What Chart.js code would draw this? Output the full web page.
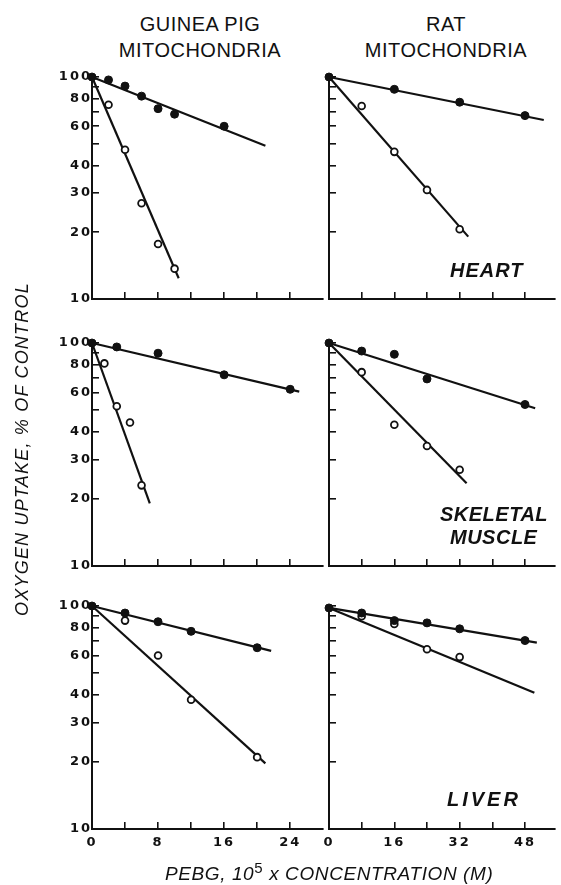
<!DOCTYPE html>
<html>
<head>
<meta charset="utf-8">
<script src="https://cdn.jsdelivr.net/npm/chart.js@4.4.1/dist/chart.umd.min.js"></script>
<style>
  body { margin: 0; width: 561px; height: 885px; background: #fff; position: relative; overflow: hidden;
         font-family: "Liberation Sans", Arial, sans-serif; color: #111; }
  canvas { position: absolute; }
  .title { position: absolute; width: 300px; text-align: center; font-size: 20px; line-height: 20px;
           letter-spacing: 0.5px; white-space: nowrap; }
  .tissue { position: absolute; font-size: 20px; line-height: 20px; font-weight: bold; font-style: italic;
            white-space: nowrap; }
  .ytitle { position: absolute; left: -148px; top: 439px; width: 340px; height: 20px; line-height: 20px;
            text-align: center; font-size: 18px; font-style: italic; letter-spacing: 1.2px;
            transform: rotate(-90deg); white-space: nowrap; }
  .xtitle { position: absolute; left: 165px; top: 864px; font-size: 19px; line-height: 19px;
            font-style: italic; letter-spacing: 0.6px; white-space: nowrap; }
  .xtitle sup { font-size: 15px; line-height: 0; font-style: normal; }
</style>
</head>
<body>
<div class="title" style="left:50px; top:14px;">GUINEA PIG</div>
<div class="title" style="left:50px; top:40px;">MITOCHONDRIA</div>
<div class="title" style="left:296px; top:14px;">RAT</div>
<div class="title" style="left:296px; top:40px;">MITOCHONDRIA</div>

<canvas id="gpHeart" width="309" height="252" style="left:20px; top:57px;"></canvas>
<canvas id="ratHeart" width="261" height="252" style="left:300px; top:57px;"></canvas>
<canvas id="gpMuscle" width="309" height="253" style="left:20px; top:323px;"></canvas>
<canvas id="ratMuscle" width="261" height="253" style="left:300px; top:323px;"></canvas>
<canvas id="gpLiver" width="309" height="273" style="left:20px; top:586px;"></canvas>
<canvas id="ratLiver" width="261" height="273" style="left:300px; top:586px;"></canvas>

<div class="tissue" style="left:450px; top:260px; letter-spacing:1px;">HEART</div>
<div class="tissue" style="left:440px; top:504px; letter-spacing:0.5px;">SKELETAL</div>
<div class="tissue" style="left:450px; top:527px; letter-spacing:0.5px;">MUSCLE</div>
<div class="tissue" style="left:447px; top:789px; letter-spacing:3px;">LIVER</div>

<div class="ytitle">OXYGEN UPTAKE, % OF CONTROL</div>
<div class="xtitle">PEBG, 10<sup>5</sup> x CONCENTRATION (M)</div>

<script>
const ink = '#111';

// axis ticks (marks every step, labels on some of them)
const yTickMarks = [10, 20, 30, 40, 50, 60, 70, 80, 90, 100];
const yTickLabels = [10, 20, 30, 40, 60, 80, 100];
const gpXTickMarks = [0, 4, 8, 12, 16, 20, 24];
const gpXTickLabels = [0, 8, 16, 24];
const ratXTickMarks = [0, 8, 16, 24, 32, 40, 48];
const ratXTickLabels = [0, 16, 32, 48];

// heart, guinea pig
const gpHeartFilledX = [0, 2, 4, 6, 8, 10, 16];
const gpHeartFilledY = [100, 97, 91, 82, 72, 68, 60];
const gpHeartOpenX = [2, 4, 6, 8, 10];
const gpHeartOpenY = [75, 47, 27, 17.7, 13.7];
const gpHeartFitFilled = [[0, 100], [21, 49]];
const gpHeartFitOpen = [[0, 100], [10.5, 12.4]];

// heart, rat
const ratHeartFilledX = [0, 16, 32, 48];
const ratHeartFilledY = [100, 88, 77, 67];
const ratHeartOpenX = [8, 16, 24, 32];
const ratHeartOpenY = [74, 46, 31, 20.6];
const ratHeartFitFilled = [[0, 100], [52.6, 64]];
const ratHeartFitOpen = [[0, 100], [34.1, 19.1]];

// skeletal muscle, guinea pig
const gpMuscleFilledX = [0, 3, 8, 16, 24];
const gpMuscleFilledY = [100, 96, 90, 72, 62];
const gpMuscleOpenX = [1.5, 3, 4.6, 6];
const gpMuscleOpenY = [81, 52, 44, 23];
const gpMuscleFitFilled = [[0, 100], [25.1, 60.5]];
const gpMuscleFitOpen = [[0, 100], [7, 19.1]];

// skeletal muscle, rat
const ratMuscleFilledX = [0, 8, 16, 24, 48];
const ratMuscleFilledY = [100, 92, 89, 69, 53];
const ratMuscleOpenX = [8, 16, 24, 32];
const ratMuscleOpenY = [74, 43, 34.5, 27];
const ratMuscleFitFilled = [[0, 100], [50.5, 51]];
const ratMuscleFitOpen = [[0, 100], [33.7, 23.5]];

// liver, guinea pig
const gpLiverFilledX = [0, 4, 8, 12, 20];
const gpLiverFilledY = [100, 93, 85, 77, 65];
const gpLiverOpenX = [4, 8, 12, 20];
const gpLiverOpenY = [86, 60, 38, 21];
const gpLiverFitFilled = [[0, 100], [21.7, 62.9]];
const gpLiverFitOpen = [[0, 100], [21, 19.7]];

// liver, rat
const ratLiverFilledX = [0, 8, 16, 24, 32, 48];
const ratLiverFilledY = [98, 93, 86, 84, 79, 70];
const ratLiverOpenX = [8, 16, 24, 32];
const ratLiverOpenY = [90, 83, 64, 59];
const ratLiverFitFilled = [[0, 98], [50.9, 68.5]];
const ratLiverFitOpen = [[0, 98], [50.3, 40.8]];

function pts(xs, ys) {
  return xs.map((x, i) => ({ x: x, y: ys[i] }));
}
function pairs(p) {
  return p.map(([x, y]) => ({ x: x, y: y }));
}

// wide letter spacing on the tick numbers
const spacedText = {
  id: 'spacedText',
  beforeDraw(chart) {
    chart.ctx.letterSpacing = '2px';
  }
};

// fixed axis sizes so all six panels line up; drop the label overhang padding
function fixSize(s, w, h) {
  if (w !== null) s.width = w;
  if (h !== null) s.height = h;
  s.paddingTop = s.paddingBottom = s.paddingLeft = s.paddingRight = 0;
}

const tickFont = { family: 'DejaVu Sans', size: 13, weight: 'bold' };
// negative tick length puts the marks inside the plot, like the original
const innerGrid = { display: true, drawOnChartArea: false, drawTicks: true, tickLength: -7, color: ink, lineWidth: 1.6 };

function drawPanel(id, isLeft, isBottom, filledX, filledY, openX, openY, fitFilled, fitOpen) {
  const ctx = document.getElementById(id).getContext('2d');
  const xMarks = isLeft ? gpXTickMarks : ratXTickMarks;
  const xLabels = isLeft ? gpXTickLabels : ratXTickLabels;
  return new Chart(ctx, {
    type: 'scatter',
    data: {
      datasets: [
        { data: pts(filledX, filledY), pointRadius: 4, pointBackgroundColor: ink,
          pointBorderColor: ink, pointBorderWidth: 1, clip: false },
        { data: pts(openX, openY), pointRadius: 3.4, pointBackgroundColor: '#fff',
          pointBorderColor: ink, pointBorderWidth: 1.8, clip: false },
        { data: pairs(fitFilled), showLine: true, pointRadius: 0, borderColor: ink,
          borderWidth: 2.2, clip: false },
        { data: pairs(fitOpen), showLine: true, pointRadius: 0, borderColor: ink,
          borderWidth: 2.2, clip: false }
      ]
    },
    options: {
      responsive: false,
      animation: false,
      events: [],
      layout: { padding: { top: 20, left: 0, right: 0, bottom: 0 } },
      plugins: {
        legend: { display: false },
        tooltip: { enabled: false }
      },
      scales: {
        x: {
          type: 'linear',
          min: 0,
          max: isLeft ? 28 : 55.4,
          grid: innerGrid,
          border: { display: true, color: ink, width: 2 },
          ticks: {
            display: isBottom, font: tickFont, color: ink, padding: 13, autoSkip: false, maxRotation: 0,
            callback: v => xLabels.includes(v) ? String(v) : ''
          },
          afterBuildTicks: s => { s.ticks = xMarks.map(v => ({ value: v })); },
          afterFit: s => fixSize(s, null, isBottom ? 30 : 10)
        },
        y: {
          type: 'logarithmic',
          min: 10,
          max: 100,
          grid: innerGrid,
          border: { display: true, color: ink, width: 2 },
          ticks: {
            display: isLeft, font: tickFont, color: ink, padding: 7, autoSkip: false,
            callback: v => yTickLabels.includes(v) ? String(v) : ''
          },
          afterBuildTicks: s => { s.ticks = yTickMarks.map(v => ({ value: v })); },
          afterFit: s => fixSize(s, isLeft ? 72 : 29, null)
        }
      }
    },
    plugins: [spacedText]
  });
}

drawPanel('gpHeart', true, false, gpHeartFilledX, gpHeartFilledY, gpHeartOpenX, gpHeartOpenY, gpHeartFitFilled, gpHeartFitOpen);
drawPanel('ratHeart', false, false, ratHeartFilledX, ratHeartFilledY, ratHeartOpenX, ratHeartOpenY, ratHeartFitFilled, ratHeartFitOpen);
drawPanel('gpMuscle', true, false, gpMuscleFilledX, gpMuscleFilledY, gpMuscleOpenX, gpMuscleOpenY, gpMuscleFitFilled, gpMuscleFitOpen);
drawPanel('ratMuscle', false, false, ratMuscleFilledX, ratMuscleFilledY, ratMuscleOpenX, ratMuscleOpenY, ratMuscleFitFilled, ratMuscleFitOpen);
drawPanel('gpLiver', true, true, gpLiverFilledX, gpLiverFilledY, gpLiverOpenX, gpLiverOpenY, gpLiverFitFilled, gpLiverFitOpen);
drawPanel('ratLiver', false, true, ratLiverFilledX, ratLiverFilledY, ratLiverOpenX, ratLiverOpenY, ratLiverFitFilled, ratLiverFitOpen);
</script>
</body>
</html>
